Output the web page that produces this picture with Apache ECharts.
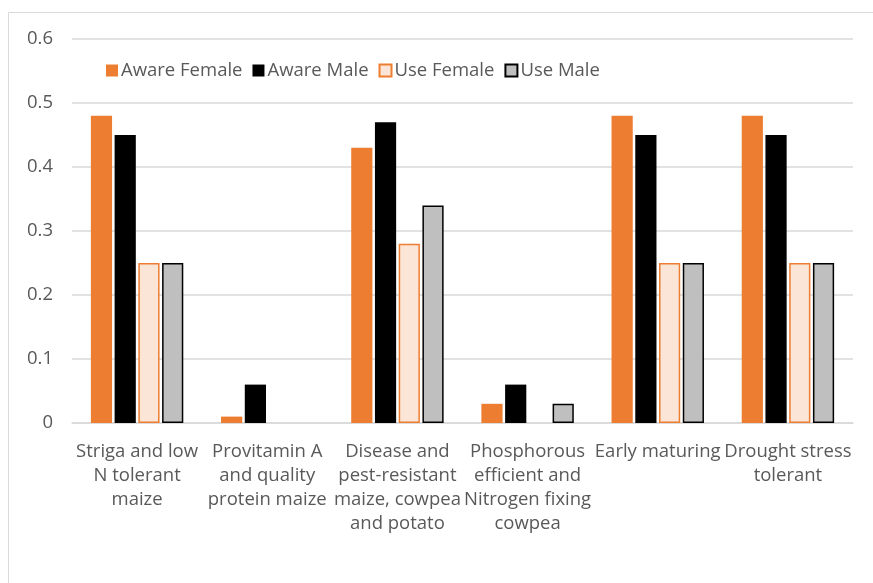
<!DOCTYPE html>
<html>
<head>
<meta charset="utf-8">
<script src="https://cdn.jsdelivr.net/npm/echarts@6/dist/echarts.min.js"></script>
<style>
  html, body { margin: 0; padding: 0; background: #fff; }
  #chart { width: 873px; height: 583px; }
</style>
</head>
<body>
<div id="chart"></div>
<script>
// Technology categories (line breaks as wrapped under each group)
const categories = [
  'Striga and low\nN tolerant\nmaize',
  'Provitamin A\nand quality\nprotein maize',
  'Disease and\npest-resistant\nmaize, cowpea\nand potato',
  'Phosphorous\nefficient and\nNitrogen fixing\ncowpea',
  'Early maturing',
  'Drought stress\ntolerant'
];

const awareFemale = [0.48, 0.01, 0.43, 0.03, 0.48, 0.48];
const awareMale   = [0.45, 0.06, 0.47, 0.06, 0.45, 0.45];
const useFemale   = [0.25, 0.00, 0.28, 0.00, 0.25, 0.25];
const useMale     = [0.25, 0.00, 0.34, 0.03, 0.25, 0.25];

const yTicks = { min: 0, max: 0.6, interval: 0.1 };

const FONT = 'Open Sans';
const FS = 18.5;
const TEXT = '#595959';
const GRID = '#D9D9D9';

// zero-height bars carry no outline
function outlined(values) {
  return values.map(v => v === 0 ? { value: v, itemStyle: { borderWidth: 0 } } : v);
}

const chart = echarts.init(document.getElementById('chart'), null, { renderer: 'canvas' });

chart.setOption({
  backgroundColor: '#ffffff',
  animation: false,
  textStyle: { fontFamily: FONT },
  graphic: [{
    type: 'rect',
    shape: { x: 8.5, y: 12.5, width: 900, height: 600 },
    style: { fill: 'none', stroke: GRID, lineWidth: 1 },
    silent: true
  }],
  legend: {
    left: 101,
    top: 56,
    itemWidth: 12,
    itemHeight: 12,
    itemGap: 10,
    icon: 'rect',
    textStyle: { color: TEXT, fontSize: FS, fontFamily: FONT, padding: [0, 0, 0, -2] },
    data: ['Aware Female', 'Aware Male', 'Use Female', 'Use Male']
  },
  grid: { left: 72, right: 20, top: 39, bottom: 160, containLabel: false },
  xAxis: {
    type: 'category',
    data: categories,
    axisLine: { lineStyle: { color: GRID, width: 1.5 } },
    axisTick: { show: false },
    axisLabel: {
      color: TEXT,
      fontSize: FS,
      fontFamily: FONT,
      lineHeight: 24,
      margin: 17,
      interval: 0
    }
  },
  yAxis: {
    type: 'value',
    min: yTicks.min,
    max: yTicks.max,
    interval: yTicks.interval,
    axisLine: { show: false },
    axisTick: { show: false },
    splitLine: { lineStyle: { color: GRID, width: 1.5 } },
    axisLabel: { color: TEXT, fontSize: FS, fontFamily: FONT, margin: 19 }
  },
  series: [
    {
      name: 'Aware Female', type: 'bar', data: awareFemale,
      barGap: '12%', barCategoryGap: '29%',
      itemStyle: { color: '#ED7D31' }
    },
    {
      name: 'Aware Male', type: 'bar', data: awareMale,
      barGap: '12%', barCategoryGap: '29%',
      itemStyle: { color: '#000000' }
    },
    {
      name: 'Use Female', type: 'bar', data: outlined(useFemale),
      barGap: '12%', barCategoryGap: '29%',
      itemStyle: { color: '#FBE5D6', borderColor: '#ED7D31', borderWidth: 1.5 }
    },
    {
      name: 'Use Male', type: 'bar', data: outlined(useMale),
      barGap: '12%', barCategoryGap: '29%',
      itemStyle: { color: '#BFBFBF', borderColor: '#000000', borderWidth: 1.5 }
    }
  ]
});
</script>
</body>
</html>
